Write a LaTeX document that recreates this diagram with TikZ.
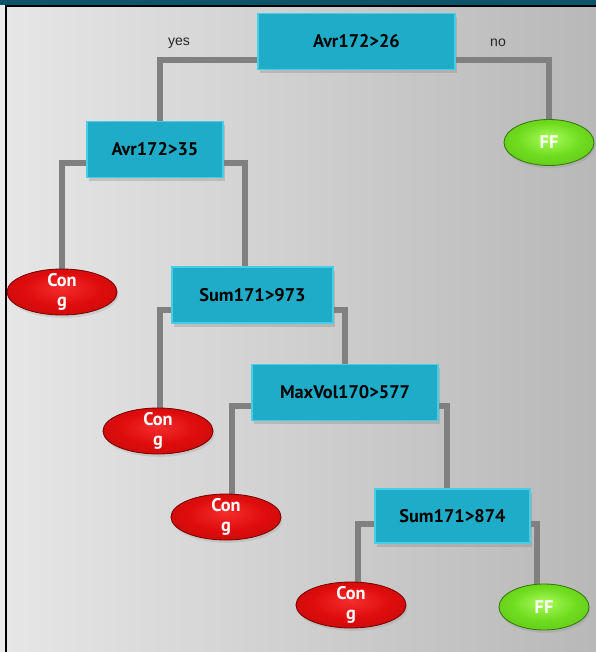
\documentclass[tikz,border=0pt]{standalone}
\usepackage{fontspec}
\setmainfont{PT Sans}
\newfontfamily\yesnofont{Liberation Sans}
\usetikzlibrary{shapes.geometric, shadows}
\definecolor{boxblue}{RGB}{30,172,200}
\definecolor{boxedge}{RGB}{72,206,228}
\definecolor{linegray}{RGB}{128,128,128}
\definecolor{frameteal}{RGB}{12,84,104}
\definecolor{bgleft}{RGB}{230,230,230}
\definecolor{bgright}{RGB}{184,184,184}
\definecolor{conglight}{RGB}{245,45,45}
\definecolor{congred}{RGB}{222,12,12}
\definecolor{congdark}{RGB}{120,0,0}
\definecolor{fflight}{RGB}{170,250,90}
\definecolor{ffgreen}{RGB}{110,220,30}
\definecolor{ffdark}{RGB}{50,120,10}
\pgfdeclareradialshading{redblob}{\pgfpoint{0bp}{5bp}}{color(0bp)=(conglight); color(18bp)=(congred); color(40bp)=(congred!85!black); color(50bp)=(congdark)}
\pgfdeclareradialshading{greenblob}{\pgfpoint{0bp}{5bp}}{color(0bp)=(fflight); color(18bp)=(ffgreen); color(40bp)=(ffgreen!85!black); color(50bp)=(ffdark)}
\pgfdeclarelayer{bg}
\pgfdeclarelayer{lines}
\pgfsetlayers{bg,lines,main}

\begin{document}
\begin{tikzpicture}[x=0.025cm, y=-0.025cm,
    test/.style={rectangle, fill=boxblue, draw=boxedge, line width=1pt,
      minimum height=1.4cm, font=\bfseries\fontsize{13}{15}\selectfont,
      drop shadow={opacity=0.3, shadow xshift=1.5pt, shadow yshift=-2.5pt}},
    leaf/.style={ellipse, line width=0.6pt, inner sep=0pt, minimum height=1.15cm,
      drop shadow={opacity=0.2, shadow xshift=1pt, shadow yshift=-2pt}},
    cong/.style={leaf, shading=redblob, draw=congdark, minimum width=2.75cm},
    ff/.style={leaf, shading=greenblob, draw=ffdark, minimum width=2.25cm},
    leaftext/.style={text=white, font=\bfseries\fontsize{13}{14}\selectfont, align=center},
    yesno/.style={font=\yesnofont\fontsize{10}{12}\selectfont, text=black!85},
    conn/.style={draw=linegray, line width=4.3pt}]
  % frame and backdrop
  \begin{pgfonlayer}{bg}
    \fill[frameteal] (0,0) rectangle (596,5);
    \fill[gray!15] (0,5) rectangle (5,652);
    \shade[left color=bgleft, right color=bgright] (7,7) rectangle (596,652);
    \fill[black] (5,5) rectangle (7,652);
    \fill[black] (5,5) rectangle (596,7);
  \end{pgfonlayer}
  \useasboundingbox (0,0) rectangle (596,652);

  \node[test, minimum width=4.925cm] (avr26) at (356.5,41.5) {Avr172>26};
  \node[yesno] (yes) at (179,43) {yes};
  \node[yesno] (no) at (498,43) {no};
  \node[test, minimum width=3.4cm] (avr35) at (155,149.5) {Avr172>35};
  \node[ff, label={[leaftext]center:FF}] (ff1) at (549,142.5) {};
  \node[cong, label={[leaftext]center:{Con\\g}}] (cong1) at (62,292) {};
  \node[test, minimum width=4.025cm] (sum973) at (252.5,295) {Sum171>973};
  \node[cong, label={[leaftext]center:{Con\\g}}] (cong2) at (158,431) {};
  \node[test, minimum width=4.65cm] (maxvol) at (345,392.5) {MaxVol170>577};
  \node[cong, label={[leaftext]center:{Con\\g}}] (cong3) at (226,517) {};
  \node[test, minimum width=3.875cm, minimum height=1.35cm] (sum874) at (452.5,516) {Sum171>874};
  \node[cong, label={[leaftext]center:{Con\\g}}] (cong4) at (351,605) {};
  \node[ff, label={[leaftext]center:FF}] (ff2) at (544,607) {};

  \begin{pgfonlayer}{lines}
    \draw[conn] ([yshift=7pt]avr26.south) -| ([xshift=3.5pt]avr35.north);
    \draw[conn] ([yshift=7pt]avr26.south) -| (ff1.north);
    \draw[conn] ([yshift=10.5pt]avr35.south) -| (cong1.north);
    \draw[conn] ([yshift=10.5pt]avr35.south) -| ([xshift=-5pt]sum973.north);
    \draw[conn] ([yshift=10pt]sum973.south) -| ([xshift=1.4pt]cong2.north);
    \draw[conn] ([yshift=10pt]sum973.south) -| (maxvol.north);
    \draw[conn] ([yshift=10.5pt]maxvol.south) -| ([xshift=4pt]cong3.north);
    \draw[conn] ([yshift=10.5pt]maxvol.south) -| ([xshift=-4pt]sum874.north);
    \draw[conn] ([yshift=14pt]sum874.south) -| ([xshift=5pt]cong4.north);
    \draw[conn] ([yshift=14pt]sum874.south) -| ([xshift=-5pt]ff2.north);
  \end{pgfonlayer}
\end{tikzpicture}
\end{document}
